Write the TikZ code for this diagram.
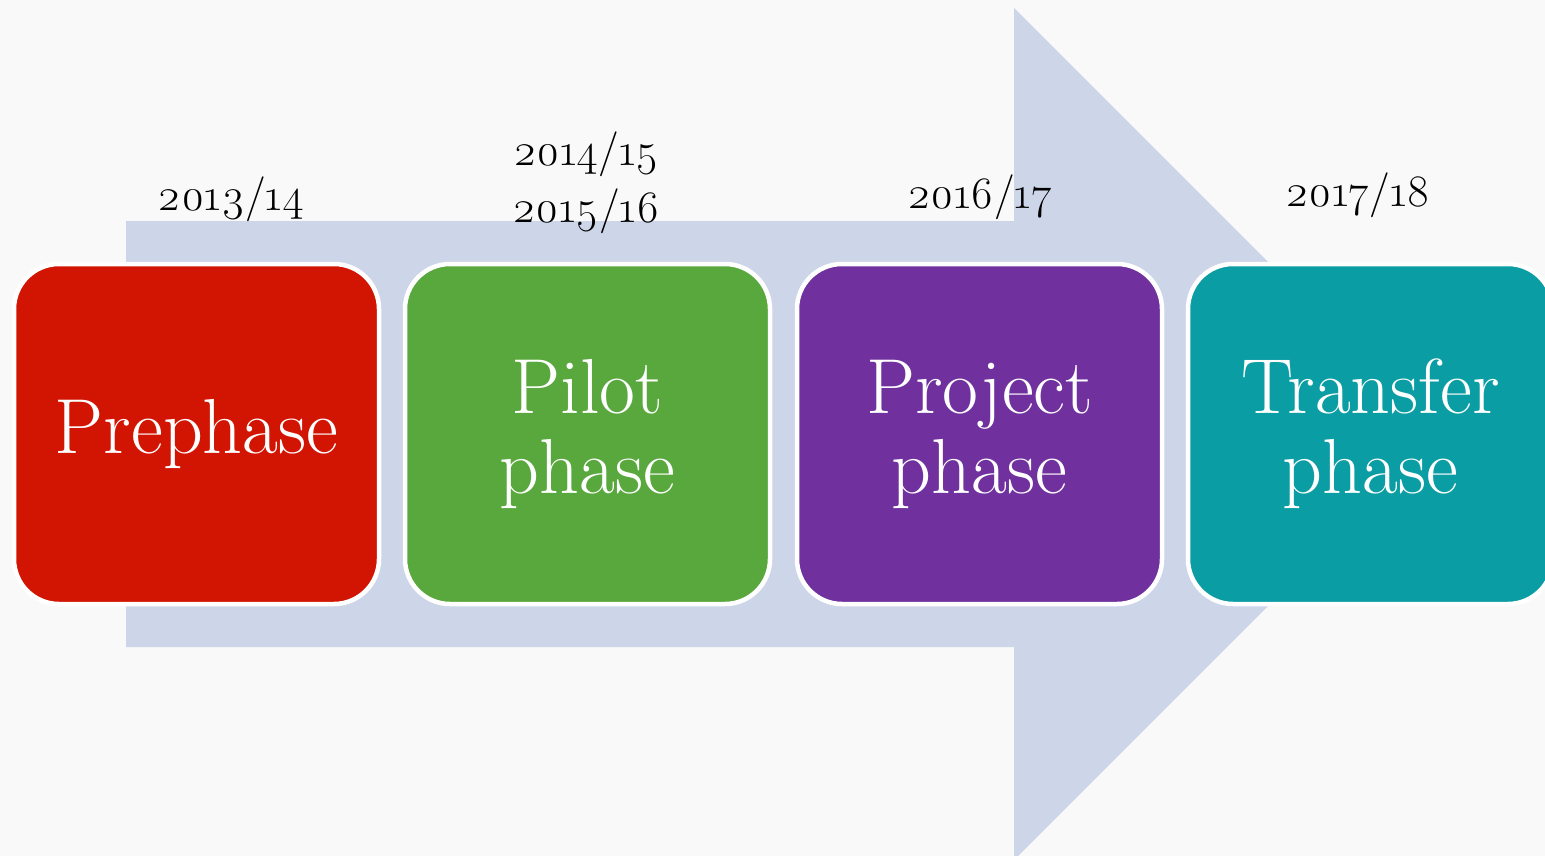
\documentclass[tikz,border=0pt]{standalone}
\usepackage{fontspec}
\setmainfont{Latin Modern Roman}[Numbers=OldStyle]
\definecolor{bgc}{HTML}{F9F9F9}
\definecolor{arrowc}{HTML}{CDD5E9}
\definecolor{redc}{HTML}{D21502}
\definecolor{greenc}{HTML}{59A83D}
\definecolor{purplec}{HTML}{70309E}
\definecolor{tealc}{HTML}{0B9DA4}
\tikzset{
  phasebox/.style={draw=white, line width=4.5pt, rounded corners=45pt,
    minimum width=365pt, minimum height=340pt, inner sep=0pt,
    text=white, align=center, font=\fontsize{78}{80}\selectfont},
  yearlbl/.style={anchor=base, align=center, text=black,
    font=\fontsize{45}{57}\selectfont}
}
\begin{document}
\begin{tikzpicture}[x=1pt,y=-1pt]
\useasboundingbox (0,0) rectangle (1545,856);
\clip (0,0) rectangle (1545,856);
\fill[bgc] (0,0) rectangle (1545,856);
\fill[arrowc] (126,221) -- (1014,221) -- (1014,8) -- (1440,434) -- (1014,860) -- (1014,647) -- (126,647) -- cycle;
\node[phasebox, fill=redc] (pre) at (196.5,434) {Prephase};
\node[phasebox, fill=greenc] (pilot) at (587.5,434) {Pilot\\phase};
\node[phasebox, fill=purplec] (proj) at (979.5,434) {Project\\phase};
\node[phasebox, fill=tealc] (trans) at (1370.5,434) {Transfer\\phase};
\node[yearlbl] (y1) at (231,210) {2013/14};
\node[yearlbl] (y2) at (586,222) {2014/15\\2015/16};
\node[yearlbl] (y3) at (980,208) {2016/17};
\node[yearlbl] (y4) at (1358,206) {2017/18};
\end{tikzpicture}
\end{document}
